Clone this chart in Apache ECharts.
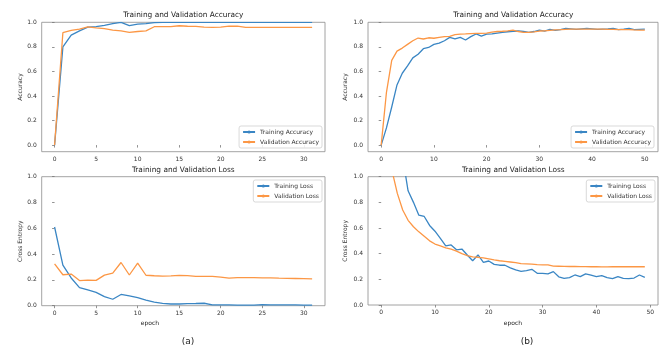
<!DOCTYPE html>
<html>
<head>
<meta charset="utf-8">
<script src="https://cdn.jsdelivr.net/npm/echarts@6/dist/echarts.min.js"></script>
<style>
  html, body { margin: 0; padding: 0; background: #fff; }
  #chart { width: 662px; height: 347px; }
</style>
</head>
<body>
<div id="chart"></div>
<script>
// (a) 32 epochs
const accTrainA = [0.0, 0.80, 0.896, 0.93, 0.96, 0.965, 0.975, 0.99, 1.0, 0.973, 0.985, 0.99, 0.997, 1.0, 1.0, 1.0,
  1.0, 1.0, 1.0, 1.0, 1.0, 1.0, 1.0, 1.0, 1.0, 1.0, 1.0, 1.0, 1.0, 1.0, 1.0, 1.0];
const accValA = [0.0, 0.915, 0.935, 0.945, 0.963, 0.955, 0.948, 0.937, 0.93, 0.918, 0.925, 0.93, 0.964, 0.964, 0.965, 0.972,
  0.968, 0.967, 0.96, 0.959, 0.96, 0.968, 0.968, 0.959, 0.959, 0.959, 0.959, 0.959, 0.959, 0.959, 0.959, 0.959];
const lossTrainA = [0.61, 0.315, 0.215, 0.14, 0.122, 0.103, 0.07, 0.05, 0.087, 0.076, 0.062, 0.043, 0.027, 0.018, 0.013, 0.013,
  0.016, 0.017, 0.019, 0.006, 0.006, 0.006, 0.005, 0.005, 0.005, 0.009, 0.007, 0.006, 0.006, 0.006, 0.005, 0.004];
const lossValA = [0.325, 0.24, 0.245, 0.195, 0.199, 0.196, 0.237, 0.252, 0.335, 0.238, 0.33, 0.236, 0.232, 0.23, 0.231, 0.235,
  0.233, 0.228, 0.228, 0.228, 0.222, 0.214, 0.218, 0.217, 0.217, 0.216, 0.215, 0.213, 0.212, 0.211, 0.21, 0.208];

// (b) 51 epochs for accuracy, 50 for loss
const accTrainB = [0.0, 0.14, 0.31, 0.49, 0.585, 0.645, 0.71, 0.74, 0.785, 0.795, 0.82, 0.83, 0.85, 0.877, 0.864, 0.877,
  0.856, 0.883, 0.905, 0.888, 0.903, 0.905, 0.912, 0.918, 0.923, 0.927, 0.929, 0.925, 0.918, 0.925, 0.937, 0.929,
  0.943, 0.935, 0.94, 0.951, 0.947, 0.943, 0.947, 0.951, 0.947, 0.943, 0.945, 0.947, 0.951, 0.94, 0.945, 0.951,
  0.94, 0.943, 0.945];
const accValB = [0.0, 0.43, 0.69, 0.765, 0.79, 0.82, 0.85, 0.872, 0.864, 0.874, 0.87, 0.877, 0.883, 0.885, 0.9, 0.903,
  0.905, 0.908, 0.91, 0.91, 0.912, 0.92, 0.925, 0.927, 0.93, 0.937, 0.925, 0.918, 0.918, 0.922, 0.929, 0.93,
  0.935, 0.938, 0.94, 0.943, 0.945, 0.944, 0.945, 0.945, 0.945, 0.945, 0.944, 0.943, 0.942, 0.94, 0.94, 0.94,
  0.938, 0.937, 0.937];
const lossTrainB = [2.4, 1.8, 1.5, 1.3, 1.15, 0.89, 0.8, 0.7, 0.69, 0.62, 0.575, 0.52, 0.46, 0.468, 0.43, 0.436,
  0.39, 0.345, 0.39, 0.333, 0.343, 0.317, 0.31, 0.31, 0.29, 0.273, 0.262, 0.268, 0.278, 0.247, 0.247, 0.243,
  0.26, 0.22, 0.208, 0.214, 0.234, 0.221, 0.242, 0.232, 0.221, 0.229, 0.214, 0.205, 0.221, 0.207, 0.205, 0.21,
  0.234, 0.216];
const lossValB = [2.2, 1.4, 1.05, 0.87, 0.74, 0.66, 0.61, 0.57, 0.535, 0.5, 0.475, 0.46, 0.445, 0.435, 0.42, 0.4,
  0.385, 0.375, 0.372, 0.368, 0.36, 0.352, 0.345, 0.34, 0.335, 0.33, 0.322, 0.32, 0.318, 0.315, 0.313, 0.312,
  0.303, 0.302, 0.301, 0.3, 0.3, 0.299, 0.299, 0.298, 0.298, 0.297, 0.297, 0.298, 0.298, 0.298, 0.298, 0.298,
  0.298, 0.298];

const xTicksA = [0, 5, 10, 15, 20, 25, 30];
const xTicksB = [0, 10, 20, 30, 40, 50];
const yTicks = [0, 0.2, 0.4, 0.6, 0.8, 1.0];

const BLUE = '#3a86c4';
const ORANGE = '#fc9745';
const FONT = 'DejaVu Sans';

const pairs = arr => arr.map((v, i) => [i, v]);

const chart = echarts.init(document.getElementById('chart'), null, { renderer: 'canvas' });

function xAxis(gridIndex, min, max, ticks) {
  return {
    type: 'value',
    gridIndex: gridIndex,
    min: min,
    max: max,
    axisLine: { show: false },
    splitLine: { show: false },
    axisTick: { show: true, customValues: ticks, length: 2.5, lineStyle: { color: '#777', width: 0.8 } },
    axisLabel: { customValues: ticks, fontSize: 6, color: '#333', margin: 4.5, fontFamily: FONT },
  };
}

function yAxis(gridIndex, min, name, gap) {
  return {
    type: 'value',
    gridIndex: gridIndex,
    min: min,
    max: 1,
    name: name,
    nameLocation: 'middle',
    nameGap: gap,
    nameTextStyle: { fontSize: 6, color: '#333', fontFamily: FONT },
    axisLine: { show: false },
    splitLine: { show: false },
    axisTick: { show: true, customValues: yTicks, length: 2.5, lineStyle: { color: '#777', width: 0.8 } },
    axisLabel: {
      customValues: yTicks, fontSize: 6, color: '#333', margin: 5, fontFamily: FONT,
      formatter: v => v.toFixed(1),
    },
  };
}

function line(name, data, color, idx) {
  return {
    name: name,
    type: 'line',
    xAxisIndex: idx,
    yAxisIndex: idx,
    data: pairs(data),
    symbol: 'none',
    showSymbol: false,
    clip: true,
    lineStyle: { color: color, width: 1.3 },
    itemStyle: { color: color },
  };
}

function legend(names, right, top) {
  return {
    data: names,
    orient: 'vertical',
    right: right,
    top: top,
    itemWidth: 12,
    itemHeight: 4,
    itemGap: 2,
    padding: [2, 3, 2, 3],
    borderColor: '#cfcfcf',
    borderWidth: 0.8,
    borderRadius: 2,
    backgroundColor: 'rgba(255,255,255,0.85)',
    textStyle: { fontSize: 6, color: '#333', lineHeight: 8, fontFamily: FONT },
  };
}

function label(text, x, y, size) {
  return {
    type: 'text',
    x: x,
    y: y,
    style: {
      text: text, fontSize: size, fontFamily: FONT, fill: '#222',
      align: 'center', verticalAlign: 'middle',
    },
  };
}

const gridStyle = { show: true, borderColor: '#8c8c8c', borderWidth: 0.8, backgroundColor: '#fff', outerBoundsMode: 'none' };

const option = {
  animation: false,
  backgroundColor: '#fff',
  textStyle: { fontFamily: FONT },
  grid: [
    Object.assign({ left: 41.7, top: 22.3, width: 283.3, height: 129.4 }, gridStyle),
    Object.assign({ left: 368, top: 22.3, width: 290, height: 129.4 }, gridStyle),
    Object.assign({ left: 41.7, top: 176.7, width: 283.3, height: 129 }, gridStyle),
    Object.assign({ left: 368, top: 176.7, width: 290, height: 128.3 }, gridStyle),
  ],
  xAxis: [
    xAxis(0, -1.55, 32.55, xTicksA),
    xAxis(1, -2.5, 52.5, xTicksB),
    xAxis(2, -1.55, 32.55, xTicksA),
    xAxis(3, -2.45, 51.45, xTicksB),
  ],
  yAxis: [
    yAxis(0, -0.054, 'Accuracy', 18.5),
    yAxis(1, -0.054, 'Accuracy', 20),
    yAxis(2, 0, 'Cross Entropy', 18.5),
    yAxis(3, 0, 'Cross Entropy', 20),
  ],
  legend: [
    legend(['Training Accuracy', 'Validation Accuracy'], 340, 126),
    legend(['Training Accuracy', 'Validation Accuracy'], 8, 126),
    legend(['Training Loss', 'Validation Loss'], 340, 180),
    legend(['Training Loss', 'Validation Loss'], 7, 180),
  ],
  graphic: [
    label('Training and Validation Accuracy', 183.3, 15, 7.4),
    label('Training and Validation Accuracy', 513.3, 15, 7.4),
    label('Training and Validation Loss', 183.3, 170, 7.4),
    label('Training and Validation Loss', 513.3, 170, 7.4),
    label('epoch', 150, 323.3, 6),
    label('epoch', 513, 323, 6),
    label('(a)', 188, 341.7, 9),
    label('(b)', 527, 341.7, 9),
  ],
  series: [
    line('Training Accuracy', accTrainA, BLUE, 0),
    line('Validation Accuracy', accValA, ORANGE, 0),
    line('Training Accuracy', accTrainB, BLUE, 1),
    line('Validation Accuracy', accValB, ORANGE, 1),
    line('Training Loss', lossTrainA, BLUE, 2),
    line('Validation Loss', lossValA, ORANGE, 2),
    line('Training Loss', lossTrainB, BLUE, 3),
    line('Validation Loss', lossValB, ORANGE, 3),
  ],
};

chart.setOption(option);
</script>
</body>
</html>
